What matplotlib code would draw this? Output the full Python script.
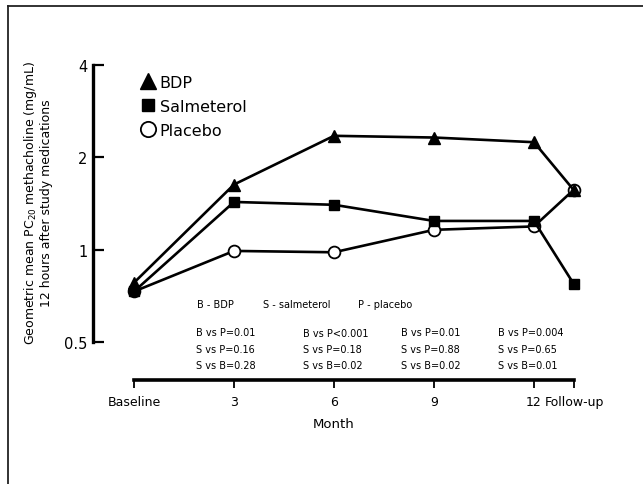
import matplotlib
matplotlib.use("Agg")
import matplotlib.pyplot as plt
from matplotlib.lines import Line2D

# ---- data ----
months = [0, 3, 6, 9, 12, 13.2]
xtick_labels = ["Baseline", "3", "6", "9", "12", "Follow-up"]
bdp = [0.78, 1.63, 2.35, 2.32, 2.24, 1.56]
salmeterol = [0.73, 1.43, 1.40, 1.24, 1.24, 0.77]
placebo = [0.73, 0.99, 0.98, 1.16, 1.19, 1.57]
yticks = [0.5, 1, 2, 4]
ytick_labels = ["0.5", "1", "2", "4"]
key_text = ["B - BDP", "S - salmeterol", "P - placebo"]
pvals = [
    ["B vs P=0.01", "S vs P=0.16", "S vs B=0.28"],
    ["B vs P<0.001", "S vs P=0.18", "S vs B=0.02"],
    ["B vs P=0.01", "S vs P=0.88", "S vs B=0.02"],
    ["B vs P=0.004", "S vs P=0.65", "S vs B=0.01"],
]

W, H = 643, 485
fig = plt.figure(figsize=(W / 100, H / 100), dpi=100)
plt.rcParams['font.family'] = ['DejaVu Sans']

def fx(px):
    return px / W

def fy(py):
    return 1 - py / H

ax = fig.add_axes([fx(93), fy(381), fx(574) - fx(93), fy(66) - fy(381)])
ax.set_yscale('log', base=2)
ppm = (534 - 134) / 12.0
ax.set_xlim(-(134 - 93) / ppm, 13.2)
ax.set_ylim(2 ** (-(381 - 251) / 92.0), 4)

lw = 1.9
ax.plot(months, placebo, color='black', lw=lw, marker='o', ms=8.5,
        mfc='white', mec='black', mew=1.3, zorder=3, clip_on=False)
ax.plot(months, salmeterol, color='black', lw=lw, marker='s', ms=7,
        mfc='black', mec='black', zorder=4, clip_on=False)
ax.plot(months, bdp, color='black', lw=lw, marker='^', ms=8,
        mfc='black', mec='black', zorder=5, clip_on=False)

for s in ['top', 'right']:
    ax.spines[s].set_visible(False)
ax.spines['left'].set_linewidth(2.4)
ax.spines['left'].set_bounds(0.5, 4)
ax.spines['bottom'].set_linewidth(2.6)
ax.spines['bottom'].set_bounds(0, 13.2)

ax.set_yticks(yticks)
ax.set_yticklabels(ytick_labels)
ax.yaxis.set_minor_locator(matplotlib.ticker.NullLocator())
ax.tick_params(axis='y', direction='in', length=8, width=1.6, labelsize=10.5, pad=4)
ax.set_xticks(months)
ax.set_xticklabels(xtick_labels)
ax.tick_params(axis='x', direction='out', length=6, width=1.3, labelsize=9, pad=5)
ax.set_xlabel("Month", fontsize=9.5, labelpad=6)

fig.text(fx(38), fy(203),
         "Geometric mean PC$_{20}$ methacholine (mg/mL)\n12 hours after study medications",
         rotation=90, ha='center', va='center', fontsize=9, linespacing=1.1)

handles = [
    Line2D([], [], ls='none', marker='^', ms=11, mfc='black', mec='black'),
    Line2D([], [], ls='none', marker='s', ms=9, mfc='black', mec='black'),
    Line2D([], [], ls='none', marker='o', ms=11, mfc='white', mec='black', mew=1.3),
]
ax.legend(handles, ["BDP", "Salmeterol", "Placebo"], loc='upper left',
          bbox_to_anchor=(fx(142), fy(76)), bbox_transform=fig.transFigure,
          frameon=False, fontsize=11.5, handlelength=0.8, handletextpad=0.3,
          labelspacing=0.55, borderpad=0, borderaxespad=0)

key_x = [197, 263, 358]
for t, x in zip(key_text, key_x):
    fig.text(fx(x), fy(305), t, fontsize=7, ha='left', va='center')

col_x = [196, 303, 401, 498]
row_y = [333, 350, 366]
for ci, col in enumerate(pvals):
    for ri, t in enumerate(col):
        yy = row_y[ri] + (1 if (ci == 1 and ri == 0) else 0)
        fig.text(fx(col_x[ci]), fy(yy), t, fontsize=7, ha='left', va='center')

fig.add_artist(Line2D([fx(8), 1.0], [fy(7), fy(7)], color='#222222', lw=1.3,
                      transform=fig.transFigure))
fig.add_artist(Line2D([fx(8), fx(8)], [fy(7), 0.0], color='#222222', lw=1.3,
                      transform=fig.transFigure))

fig.savefig("out.png", dpi=100, facecolor='white')
